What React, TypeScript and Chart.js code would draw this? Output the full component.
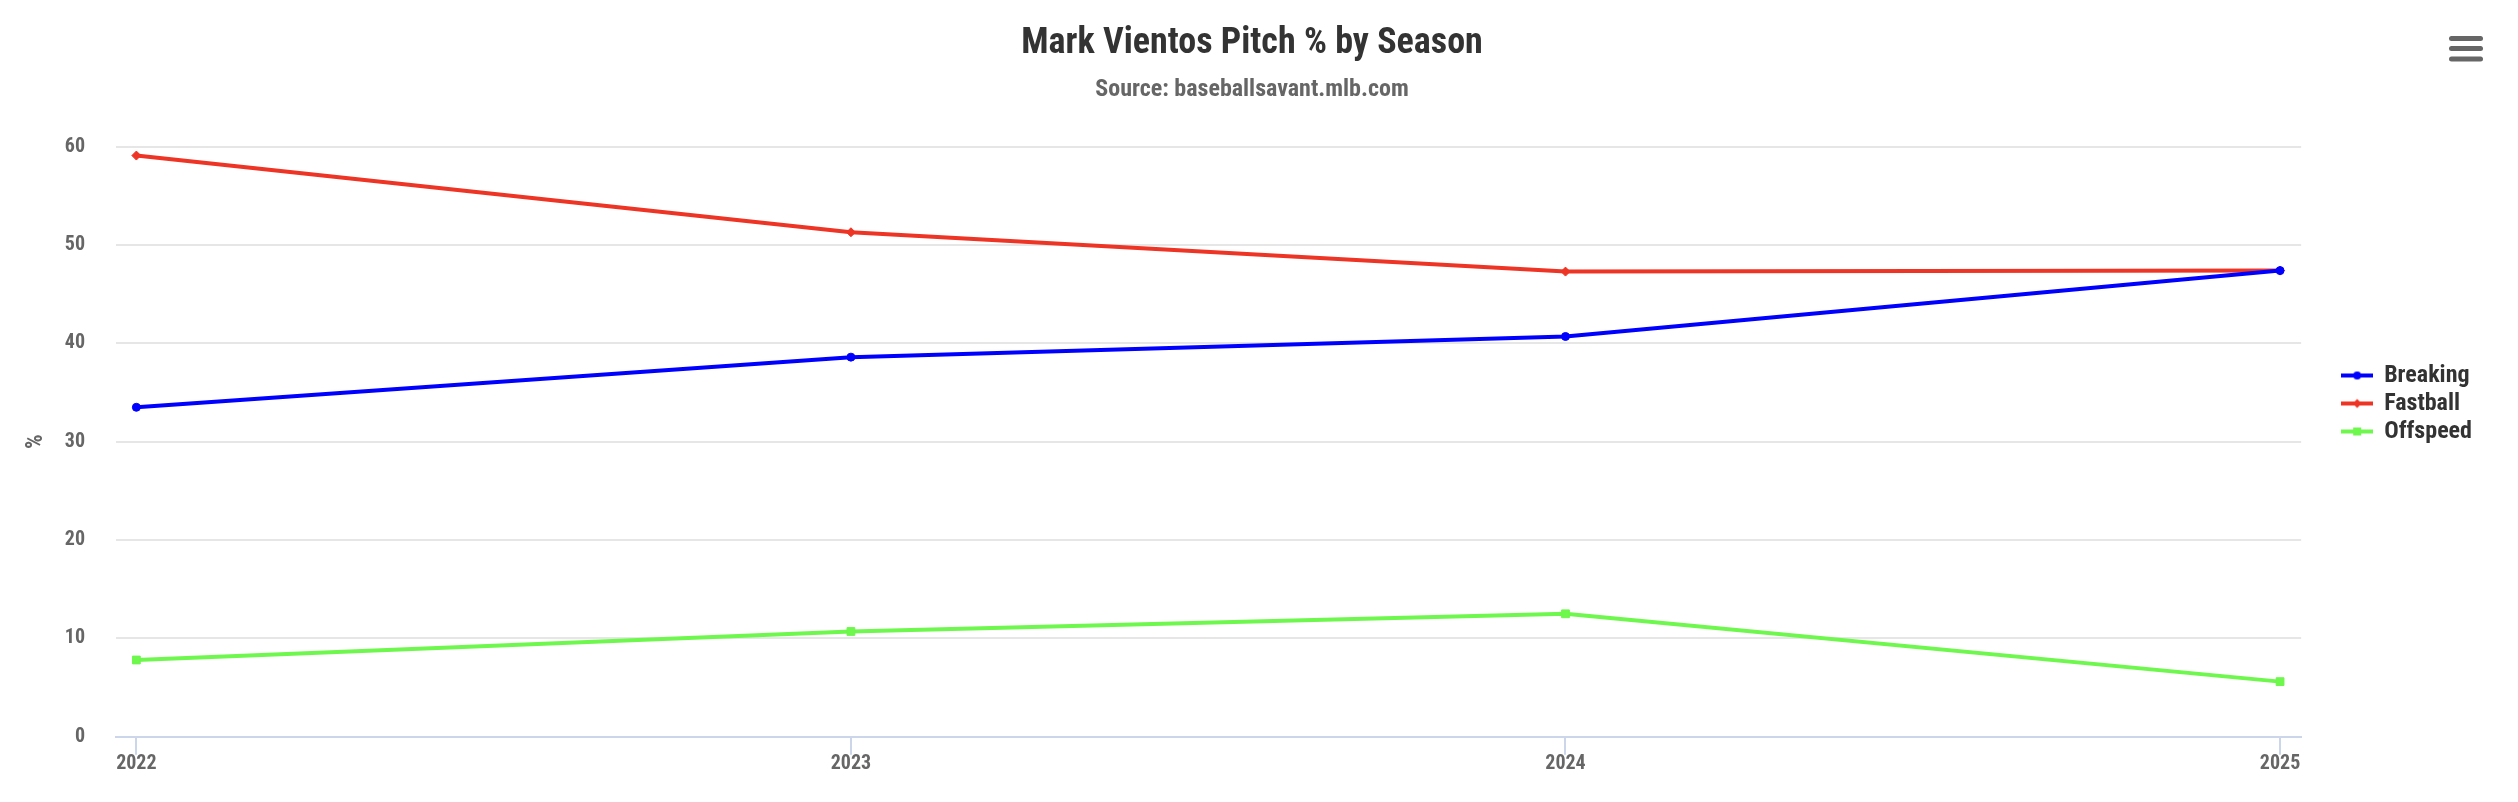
import React, { useEffect, useRef } from "react";
import { Chart, registerables } from "chart.js";

Chart.register(...registerables);

const title = "Mark Vientos Pitch % by Season";
const subtitle = "Source: baseballsavant.mlb.com";
const yAxisTitle = "%";
const years = [2022, 2023, 2024, 2025];
const seriesNames = ["Breaking", "Fastball", "Offspeed"];
const breaking = [33.5, 38.6, 40.7, 47.4];
const fastball = [59.1, 51.3, 47.3, 47.4];
const offspeed = [7.8, 10.7, 12.5, 5.6];
const yTicks = [0, 10, 20, 30, 40, 50, 60];

const COLORS = ["#0000ff", "#ee3424", "#6ef74c"];
const MARKERS = ["circle", "rectRot", "rect"];
const RADII = [4, 4.5, 5.5];

const FONT = "'Roboto Condensed', 'Liberation Sans Narrow', 'Roboto', sans-serif";

function makeLegendIcon(color: string, marker: string): HTMLCanvasElement {
  const c = document.createElement("canvas");
  c.width = 32;
  c.height = 12;
  const ctx = c.getContext("2d")!;
  ctx.strokeStyle = color;
  ctx.fillStyle = color;
  ctx.lineWidth = 4;
  ctx.beginPath();
  ctx.moveTo(0, 6);
  ctx.lineTo(32, 6);
  ctx.stroke();
  ctx.beginPath();
  if (marker === "circle") {
    ctx.arc(16, 6, 4, 0, Math.PI * 2);
  } else if (marker === "rectRot") {
    ctx.moveTo(16, 1.5);
    ctx.lineTo(20.5, 6);
    ctx.lineTo(16, 10.5);
    ctx.lineTo(11.5, 6);
    ctx.closePath();
  } else {
    ctx.rect(12, 2, 8, 8);
  }
  ctx.fill();
  return c;
}

const menuPlugin = {
  id: "menuIcon",
  afterDraw(chart: any) {
    const ctx = chart.ctx;
    const w = chart.width;
    ctx.save();
    ctx.strokeStyle = "#666666";
    ctx.lineWidth = 5;
    ctx.lineCap = "round";
    const x1 = w - 58.5;
    const x2 = w - 29.5;
    [30.5, 40.5, 51].forEach((y) => {
      ctx.beginPath();
      ctx.moveTo(x1, y);
      ctx.lineTo(x2, y);
      ctx.stroke();
    });
    ctx.restore();
  },
};

export default function App() {
  const ref = useRef<HTMLCanvasElement | null>(null);

  useEffect(() => {
    if (!ref.current) return;
    Chart.defaults.font.family = FONT;
    const seriesData = [breaking, fastball, offspeed];
    const icons = seriesNames.map((_, i) => makeLegendIcon(COLORS[i], MARKERS[i]));

    const chart = new Chart(ref.current, {
      type: "line",
      data: {
        datasets: seriesNames.map((name, i) => ({
          label: name,
          data: years.map((yr, j) => ({ x: yr, y: seriesData[i][j] })),
          borderColor: COLORS[i],
          backgroundColor: COLORS[i],
          borderWidth: 4,
          pointStyle: MARKERS[i] as any,
          pointRadius: RADII[i],
          pointBorderWidth: 1,
          pointBorderColor: COLORS[i],
          pointBackgroundColor: COLORS[i],
          tension: 0,
          fill: false,
        })),
      },
      options: {
        responsive: false,
        animation: false,
        layout: { padding: { top: 5, left: 14, right: 28, bottom: 0 } },
        plugins: {
          title: {
            display: true,
            text: title,
            color: "#333333",
            font: { size: 36, weight: "bold", family: FONT },
            padding: { top: 9.4, bottom: 0 },
          },
          subtitle: {
            display: true,
            text: subtitle,
            color: "#666666",
            font: { size: 24, weight: "bold", family: FONT },
            padding: { top: 9.6, bottom: 42.7 },
          },
          legend: {
            display: true,
            position: "right",
            align: "center",
            labels: {
              usePointStyle: true,
              pointStyleWidth: 30,
              padding: 4,
              color: "#333333",
              font: { size: 24, weight: "bold", family: FONT },
              generateLabels: (ch: any) =>
                ch.data.datasets.map((ds: any, i: number) => ({
                  text: ds.label,
                  pointStyle: icons[i],
                  fillStyle: COLORS[i],
                  strokeStyle: COLORS[i],
                  lineWidth: 0,
                  hidden: !ch.isDatasetVisible(i),
                  datasetIndex: i,
                  fontColor: "#333333",
                })),
            },
          },
          tooltip: { enabled: true },
        },
        scales: {
          x: {
            type: "linear",
            min: years[0] - 0.0285,
            max: years[years.length - 1] + 0.0295,
            afterBuildTicks: (scale: any) => {
              scale.ticks = years.map((v) => ({ value: v }));
            },
            afterFit: (scale: any) => {
              scale.height = 57.3;
            },
            ticks: {
              color: "#666666",
              font: { size: 20, weight: "bold", family: FONT },
              padding: -3,
              maxRotation: 0,
              autoSkip: false,
              callback: (v: any) => String(v),
            },
            grid: {
              display: true,
              drawOnChartArea: false,
              drawTicks: true,
              tickLength: 18,
              color: "#ccd6eb",
              lineWidth: 2,
            },
            border: { display: true, color: "#ccd6eb", width: 2 },
          },
          y: {
            type: "linear",
            min: yTicks[0],
            max: yTicks[yTicks.length - 1],
            afterBuildTicks: (scale: any) => {
              scale.ticks = yTicks.map((v) => ({ value: v }));
            },
            afterFit: (scale: any) => {
              scale.width = 94;
            },
            ticks: {
              color: "#666666",
              font: { size: 20, weight: "bold", family: FONT },
              padding: 31,
              callback: (v: any) => String(v),
            },
            grid: {
              color: "#e6e6e6",
              lineWidth: 2,
              drawTicks: false,
            },
            border: { display: false },
            title: {
              display: true,
              text: yAxisTitle,
              color: "#666666",
              font: { size: 23, weight: "bold", family: FONT },
              padding: { top: 0, bottom: 0 },
            },
          },
          yRight: {
            type: "linear",
            position: "right",
            display: true,
            ticks: { display: false },
            grid: { display: false, drawTicks: false },
            border: { display: false },
            afterFit: (scale: any) => {
              scale.width = 37;
            },
          },
        },
      },
      plugins: [menuPlugin],
    } as any);

    return () => chart.destroy();
  }, []);

  return (
    <div style={{ width: 2502, height: 786 }}>
      <canvas ref={ref} width={2502} height={786} style={{ display: "block" }} />
    </div>
  );
}
